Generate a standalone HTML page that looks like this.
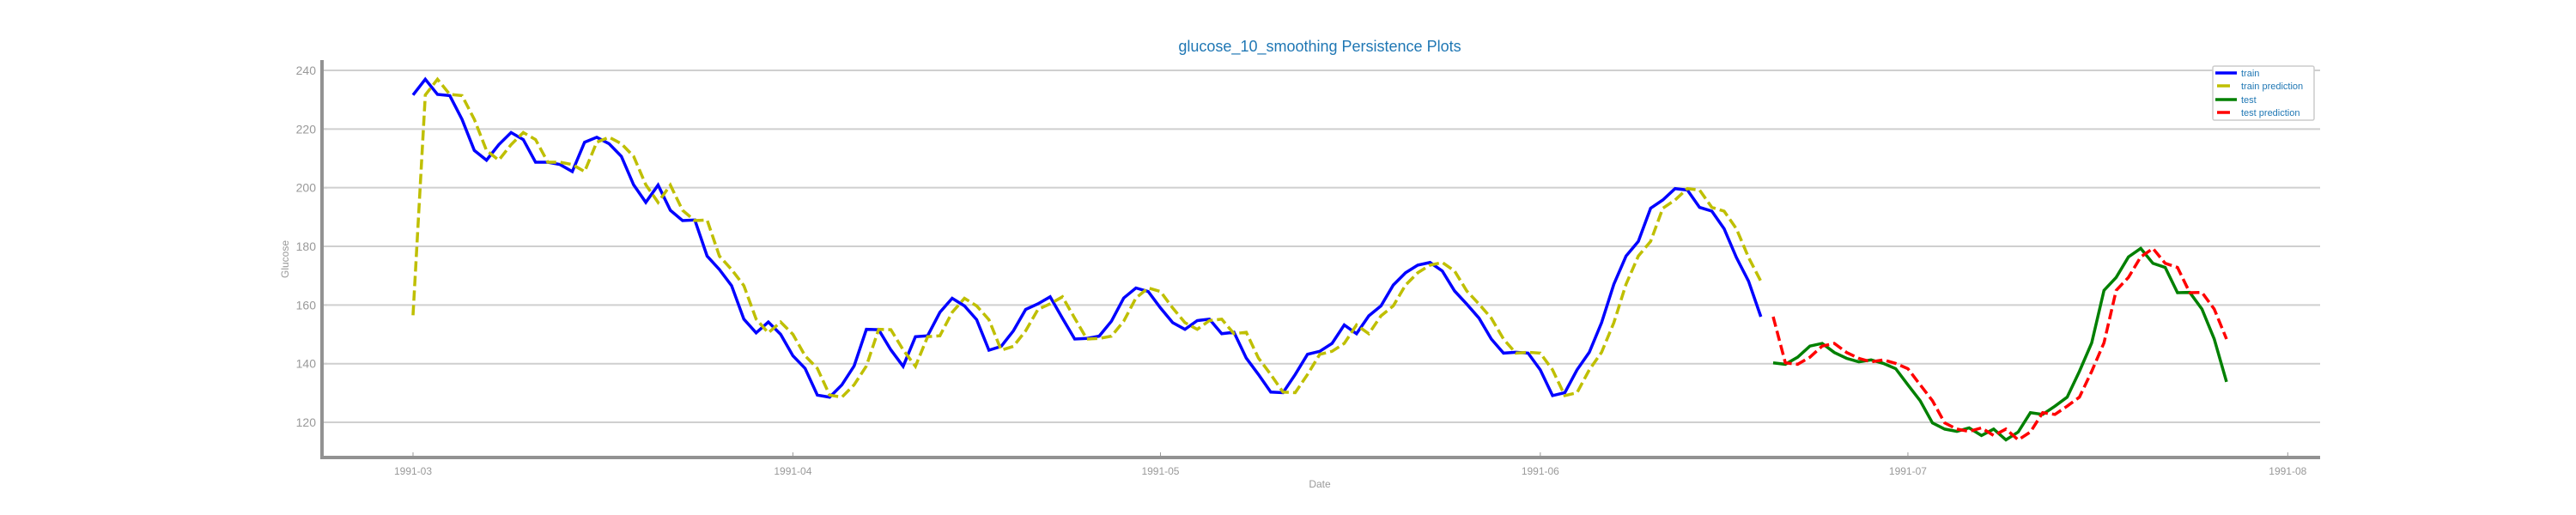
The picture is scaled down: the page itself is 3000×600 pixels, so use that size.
<!DOCTYPE html>
<html><head><meta charset="utf-8"><style>
html,body{margin:0;padding:0;background:#fff;}
svg{display:block;font-family:"Liberation Sans","DejaVu Sans",sans-serif;}
</style></head><body>
<svg id="chart" width="3000" height="600" viewBox="0 0 3000 600" xmlns="http://www.w3.org/2000/svg">
<text x="1537" y="60" text-anchor="middle" font-size="18" fill="#1f77b4">glucose_10_smoothing Persistence Plots</text>
<g id="grid"></g>
<g id="yticks"></g>
<g id="xticks"></g>
<g id="series"></g>
<line x1="375" y1="70" x2="375" y2="535" stroke="#929292" stroke-width="4"/>
<line x1="373" y1="533" x2="2702" y2="533" stroke="#929292" stroke-width="4"/>
<text transform="translate(336,302) rotate(-90)" text-anchor="middle" font-size="12" fill="#999">Glucose</text>
<text x="1537" y="568" text-anchor="middle" font-size="12" fill="#999">Date</text>
<g>
<rect x="2577" y="77" width="118" height="63" fill="#fff" stroke="#ccc" stroke-width="1.5" rx="2"/>
<g><line x1="2580" y1="85" x2="2605" y2="85" stroke="#0000ff" stroke-width="3.5"/><text x="2610" y="89" font-size="11" fill="#1f77b4">train</text></g>
<g><line x1="2582" y1="100" x2="2597" y2="100" stroke="#bfbf00" stroke-width="3.5"/><text x="2610" y="104" font-size="11" fill="#1f77b4">train prediction</text></g>
<g><line x1="2580" y1="116" x2="2605" y2="116" stroke="#008000" stroke-width="3.5"/><text x="2610" y="120" font-size="11" fill="#1f77b4">test</text></g>
<g><line x1="2582" y1="131" x2="2597" y2="131" stroke="#ff0000" stroke-width="3.5"/><text x="2610" y="135" font-size="11" fill="#1f77b4">test prediction</text></g>
</g>
</svg>
<script>
const yTicks = [120, 140, 160, 180, 200, 220, 240];
const xTickLabels = ["1991-03", "1991-04", "1991-05", "1991-06", "1991-07", "1991-08"];
const xTickDays = [0, 31, 61, 92, 122, 153];
const trainStartDay = 0;
const testStartDay = 111;
const train = [231.6,237,231.8,231.4,223.3,212.7,209.4,214.7,218.8,216.4,208.7,208.7,207.9,205.5,215.5,217.2,215,210.7,201,195,200.9,192.3,188.8,189,176.7,172.1,166.6,155.2,150.5,154.2,150,142.7,138.4,129.3,128.6,132.8,139.2,151.7,151.6,144.7,139.1,149.2,149.5,157.5,162.3,159.7,155,144.6,145.9,151.2,158.5,160.4,162.8,155.5,148.4,148.6,149.4,154.5,162.4,165.8,164.6,159,154,151.7,154.7,155.2,150.2,150.7,141.9,136.3,130.3,130.1,136.3,143.2,144.2,146.9,153.2,150.2,156.3,159.7,166.8,171,173.6,174.5,171.6,164.8,160.3,155.5,148.4,143.6,143.9,143.6,137.9,129.1,130.1,137.9,143.9,154,167.1,176.7,181.7,193,195.8,199.7,199.2,193.3,192,186,176.2,168.1,156];
const trainPrediction = [156.5,231.6,237,231.8,231.4,223.3,212.7,209.4,214.7,218.8,216.4,208.7,208.7,207.9,205.5,215.5,217.2,215,210.7,201,195,200.9,192.3,188.8,189,176.7,172.1,166.6,155.2,150.5,154.2,150,142.7,138.4,129.3,128.6,132.8,139.2,151.7,151.6,144.7,139.1,149.2,149.5,157.5,162.3,159.7,155,144.6,145.9,151.2,158.5,160.4,162.8,155.5,148.4,148.6,149.4,154.5,162.4,165.8,164.6,159,154,151.7,154.7,155.2,150.2,150.7,141.9,136.3,130.3,130.1,136.3,143.2,144.2,146.9,153.2,150.2,156.3,159.7,166.8,171,173.6,174.5,171.6,164.8,160.3,155.5,148.4,143.6,143.9,143.6,137.9,129.1,130.1,137.9,143.9,154,167.1,176.7,181.7,193,195.8,199.7,199.2,193.3,192,186,176.2,168.1];
const test = [140.3,139.8,142.2,146,146.9,143.8,141.8,140.6,141.3,140.1,138.3,132.8,127.4,119.8,117.7,116.9,118.1,115.5,117.7,114,116.7,123.3,122.7,125.5,128.6,137.4,147.1,165,169.4,176.4,179.3,174.2,172.8,164.2,164.3,158.6,148.4,133.8];
const testPrediction = [156,140.3,139.8,142.2,146,146.9,143.8,141.8,140.6,141.3,140.1,138.3,132.8,127.4,119.8,117.7,116.9,118.1,115.5,117.7,114,116.7,123.3,122.7,125.5,128.6,137.4,147.1,165,169.4,176.4,179.3,174.2,172.8,164.2,164.3,158.6,148.4];

const NS = "http://www.w3.org/2000/svg";
const X0 = 481, PXDAY = 14.27;
const yAt240 = 82, PXUNIT = 3.417;
function xScale(day){ return X0 + day * PXDAY; }
function yScale(v){ return yAt240 + (240 - v) * PXUNIT; }
function mk(tag, attrs, parent){ const e=document.createElementNS(NS,tag); for(const k in attrs) e.setAttribute(k,attrs[k]); parent.appendChild(e); return e; }

const grid = document.getElementById('grid');
const yt = document.getElementById('yticks');
yTicks.forEach(v=>{
  const y=yScale(v);
  const gl=mk('line',{x1:375,x2:2702,y1:y,y2:y,stroke:'#cfcfcf','stroke-width':2},grid);
  
  
  mk('line',{x1:375,x2:381,y1:y,y2:y,stroke:'#cfcfcf','stroke-width':2},yt);
  const t=mk('text',{x:368,y:y+5,'text-anchor':'end','font-size':14,fill:'#999'},yt);
  t.textContent=v;
  
  
});
const xt = document.getElementById('xticks');
xTickLabels.forEach((lab,i)=>{
  const x=xScale(xTickDays[i]);
  mk('line',{x1:x,x2:x,y1:527,y2:531,stroke:'#999','stroke-width':1},xt);
  const t=mk('text',{x:x,y:553,'text-anchor':'middle','font-size':12,fill:'#999'},xt);
  t.textContent=lab;
  
  
});
const ser = document.getElementById('series');
function drawLine(vals, startDay, color, dash, name){
  const pts = vals.map((v,i)=>xScale(startDay+i).toFixed(1)+','+yScale(v).toFixed(1)).join(' ');
  const a={points:pts,fill:'none',stroke:color,'stroke-width':3.5,'stroke-linejoin':'miter'};
  if(dash) a['stroke-dasharray']=dash;
  const p=mk('polyline',a,ser);
  
  
}
drawLine(train, trainStartDay, '#0000ff', null, 'train-line');
drawLine(trainPrediction, trainStartDay, '#bfbf00', '12,5', 'train-prediction-line');
drawLine(test, testStartDay, '#008000', null, 'test-line');
drawLine(testPrediction, testStartDay, '#ff0000', '12,5', 'test-prediction-line');
</script>
</body></html>
